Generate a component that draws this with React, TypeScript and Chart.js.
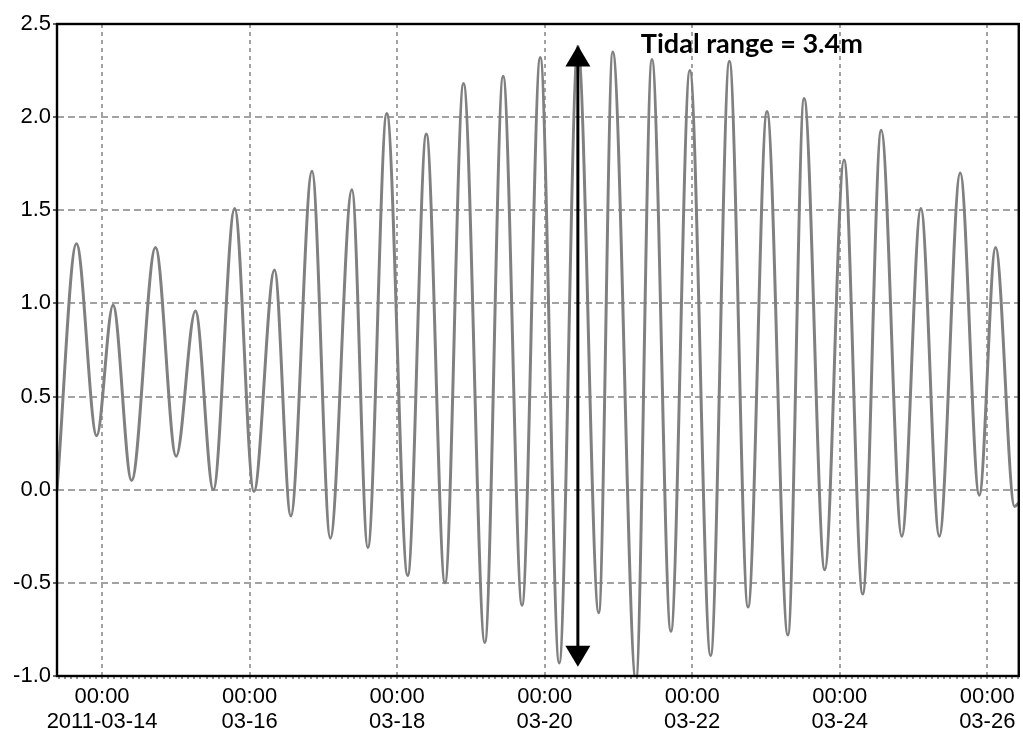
import React, { useEffect, useRef } from 'react';
import { Chart, registerables } from 'chart.js';

Chart.register(...registerables);

// ---------------- data ----------------
const tideTimes: string[] = [
  '2011-03-13 09:20', '2011-03-13 15:40', '2011-03-13 22:15', '2011-03-14 03:34',
  '2011-03-14 09:36', '2011-03-14 17:23', '2011-03-15 00:06', '2011-03-15 06:22',
  '2011-03-15 12:12', '2011-03-15 19:08', '2011-03-16 01:24', '2011-03-16 08:06',
  '2011-03-16 13:24', '2011-03-16 20:18', '2011-03-17 02:16', '2011-03-17 09:17',
  '2011-03-17 14:28', '2011-03-17 20:38', '2011-03-18 03:26', '2011-03-18 09:30',
  '2011-03-18 15:34', '2011-03-18 21:36', '2011-03-19 04:32', '2011-03-19 10:29',
  '2011-03-19 16:38', '2011-03-19 22:34', '2011-03-20 04:44', '2011-03-20 10:48',
  '2011-03-20 17:36', '2011-03-20 22:09', '2011-03-21 05:42', '2011-03-21 10:54',
  '2011-03-21 17:04', '2011-03-21 23:14', '2011-03-22 06:00', '2011-03-22 12:06',
  '2011-03-22 18:10', '2011-03-23 00:20', '2011-03-23 07:08', '2011-03-23 12:24',
  '2011-03-23 19:08', '2011-03-24 01:24', '2011-03-24 07:28', '2011-03-24 13:30',
  '2011-03-24 20:12', '2011-03-25 02:24', '2011-03-25 08:24', '2011-03-25 15:12',
  '2011-03-25 21:24', '2011-03-26 02:42', '2011-03-26 08:54', '2011-03-26 10:15',
];

const tideLevels: number[] = [
  0.0, 1.32, 0.29, 0.99,
  0.05, 1.30, 0.18, 0.96,
  0.0, 1.51, -0.01, 1.18,
  -0.14, 1.71, -0.26, 1.61,
  -0.31, 2.02, -0.46, 1.91,
  -0.5, 2.18, -0.82, 2.22,
  -0.62, 2.32, -0.93, 2.38,
  -0.66, 2.35, -1.02, 2.31,
  -0.76, 2.25, -0.89, 2.3,
  -0.63, 2.03, -0.78, 2.1,
  -0.43, 1.77, -0.56, 1.93,
  -0.25, 1.51, -0.25, 1.7,
  -0.03, 1.3, -0.09, -0.07,
];

const xRange: string[] = ['2011-03-13 09:20', '2011-03-26 10:15'];
const majorTickTimes: string[] = [
  '2011-03-14 00:00', '2011-03-16 00:00', '2011-03-18 00:00', '2011-03-20 00:00',
  '2011-03-22 00:00', '2011-03-24 00:00', '2011-03-26 00:00',
];
const majorTickLabels: string[][] = [
  ['00:00', '2011-03-14'], ['00:00', '03-16'], ['00:00', '03-18'], ['00:00', '03-20'],
  ['00:00', '03-22'], ['00:00', '03-24'], ['00:00', '03-26'],
];
const minorTickHours = 2;
const yMin = -1.0;
const yMax = 2.5;
const yStep = 0.5;

const arrowTime = '2011-03-20 10:48';
const arrowTop = 2.385;
const arrowBottom = -0.95;
const annotationText = 'Tidal range = 3.4m';

// ---------------- helpers ----------------
const BASE = Date.UTC(2011, 2, 13, 0, 0);
function toHours(s: string): number {
  const [d, t] = s.split(' ');
  const [Y, M, D] = d.split('-').map(Number);
  const [h, m] = (t || '00:00').split(':').map(Number);
  return (Date.UTC(Y, M - 1, D, h, m) - BASE) / 3600000;
}
const majorHours = majorTickTimes.map(toHours);
function majorIndex(v: number): number {
  return majorHours.findIndex((h) => Math.abs(h - v) < 1e-6);
}

const GRID = '#a2a2a2';
const LINE = '#808080';
const TICK_FONT = { family: '"Liberation Sans", Arial, sans-serif', size: 22, lineHeight: 1.15 };

const overlayPlugin = {
  id: 'overlay',
  afterDatasetsDraw(chart: any) {
    const { ctx, chartArea: a, scales } = chart;
    const x = scales.x;
    const y = scales.y;
    ctx.save();
    // frame
    ctx.strokeStyle = '#000';
    ctx.lineWidth = 2.4;
    ctx.setLineDash([]);
    ctx.strokeRect(a.left, a.top, a.right - a.left, a.bottom - a.top);

    // double arrow
    const ax = x.getPixelForValue(toHours(arrowTime));
    const yt = y.getPixelForValue(arrowTop);
    const yb = y.getPixelForValue(arrowBottom);
    const hw = 12.5;
    const hh = 21;
    ctx.lineWidth = 3;
    ctx.beginPath();
    ctx.moveTo(ax, yt + hh - 1);
    ctx.lineTo(ax, yb - hh + 1);
    ctx.stroke();
    ctx.fillStyle = '#000';
    ctx.beginPath();
    ctx.moveTo(ax, yt);
    ctx.lineTo(ax - hw, yt + hh);
    ctx.lineTo(ax + hw, yt + hh);
    ctx.closePath();
    ctx.fill();
    ctx.beginPath();
    ctx.moveTo(ax, yb);
    ctx.lineTo(ax - hw, yb - hh);
    ctx.lineTo(ax + hw, yb - hh);
    ctx.closePath();
    ctx.fill();

    // label
    const fam = 'Lato, "Open Sans", sans-serif';
    ctx.font = `bold 25px ${fam}`;
    const w25 = ctx.measureText(annotationText).width;
    const size = (25 * 222) / w25;
    ctx.font = `bold ${size.toFixed(2)}px ${fam}`;
    ctx.textAlign = 'left';
    ctx.textBaseline = 'alphabetic';
    ctx.fillText(annotationText, ax + 63, yt + 7.8);
    ctx.restore();
  },
};

export default function App() {
  const ref = useRef<HTMLCanvasElement | null>(null);

  useEffect(() => {
    if (!ref.current) return;
    const points = tideTimes.map((t, i) => ({ x: toHours(t), y: tideLevels[i] }));
    const xMin = toHours(xRange[0]);
    const xMax = toHours(xRange[1]);

    const chart = new Chart(ref.current, {
      type: 'line',
      data: {
        datasets: [
          {
            label: 'Water level',
            data: points,
            borderColor: LINE,
            borderWidth: 3,
            pointRadius: 0,
            fill: false,
            cubicInterpolationMode: 'monotone',
          },
        ],
      },
      options: {
        animation: false,
        responsive: false,
        events: [],
        layout: { padding: { top: 24, right: 1, left: 0, bottom: 0 } },
        plugins: {
          legend: { display: false },
          tooltip: { enabled: false },
          title: { display: false },
        },
        scales: {
          x: {
            type: 'linear',
            min: xMin,
            max: xMax,
            afterBuildTicks: (scale: any) => {
              const ticks: any[] = [];
              for (let h = Math.ceil(xMin / minorTickHours) * minorTickHours; h <= xMax + 1e-9; h += minorTickHours) {
                ticks.push({ value: h });
              }
              scale.ticks = ticks;
            },
            afterFit: (scale: any) => {
              scale.height = 56;
            },
            ticks: {
              autoSkip: false,
              maxRotation: 0,
              minRotation: 0,
              padding: 5,
              color: '#000',
              font: TICK_FONT,
              callback: (value: any) => {
                const i = majorIndex(Number(value));
                return i >= 0 ? majorTickLabels[i] : '';
              },
            },
            grid: {
              display: true,
              drawOnChartArea: true,
              drawTicks: true,
              tickLength: 3,
              lineWidth: 2,
              tickWidth: 1,
              tickColor: '#222',
              color: (ctx: any) => (ctx.tick && majorIndex(ctx.tick.value) >= 0 ? GRID : 'rgba(0,0,0,0)'),
            },
            border: { display: false, dash: [4, 4] },
          },
          y: {
            type: 'linear',
            min: yMin,
            max: yMax,
            afterFit: (scale: any) => {
              scale.width = 57;
            },
            ticks: {
              stepSize: yStep,
              padding: 2,
              color: '#000',
              font: TICK_FONT,
              callback: (value: any) => Number(value).toFixed(1),
            },
            grid: {
              display: true,
              drawTicks: true,
              tickLength: 4,
              lineWidth: 2,
              tickWidth: 1.5,
              tickColor: '#333',
              color: GRID,
            },
            border: { display: false, dash: [7, 4] },
          },
        },
      },
      plugins: [overlayPlugin],
    });
    return () => chart.destroy();
  }, []);

  return (
    <div style={{ position: 'absolute', left: 0, top: 0, width: 1023, height: 732, background: '#fff' }}>
      <canvas ref={ref} width={1023} height={732} style={{ display: 'block' }} />
    </div>
  );
}
